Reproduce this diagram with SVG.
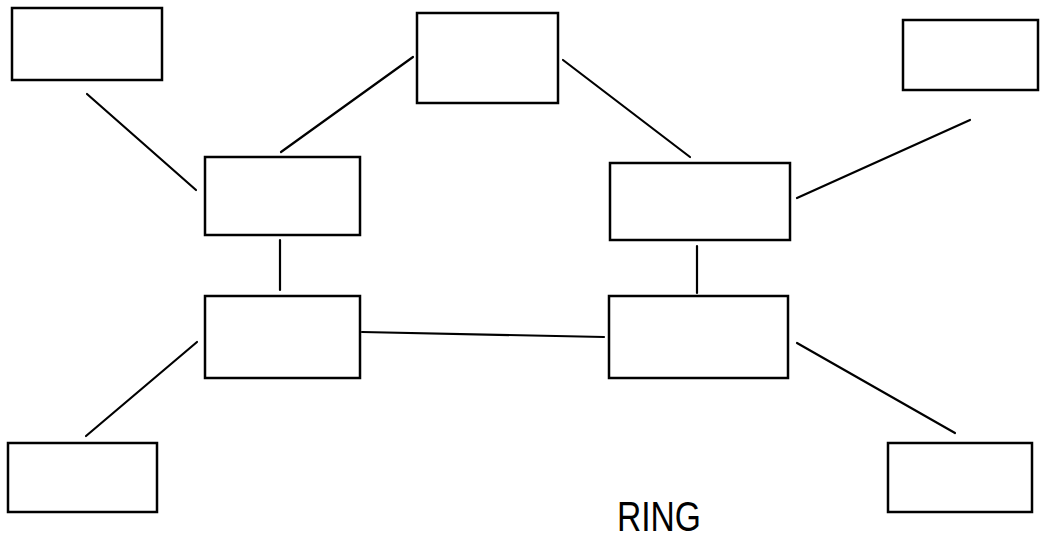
<svg xmlns="http://www.w3.org/2000/svg" width="1044" height="538" viewBox="0 0 1044 538">
<style>
.box{fill:none;stroke:#000;stroke-width:2.5}
.ln{stroke:#000;stroke-width:2.2;fill:none;stroke-linecap:round}
.lbl{font-family:"Liberation Sans",Arial,sans-serif;font-size:42px;fill:#000}
</style>
<rect width="1044" height="538" fill="#fff"/>
<g id="connectors">
<line class="ln" x1="87" y1="94" x2="196" y2="190"/>
<line class="ln" x1="281" y1="152" x2="413" y2="57"/>
<line class="ln" x1="563" y1="60" x2="690" y2="157"/>
<line class="ln" x1="797" y1="198" x2="970" y2="120"/>
<line class="ln" x1="280" y1="240" x2="280" y2="290"/>
<line class="ln" x1="697" y1="246" x2="697" y2="293"/>
<line class="ln" x1="362" y1="332" x2="604" y2="337"/>
<line class="ln" x1="197" y1="342" x2="86" y2="436"/>
<line class="ln" x1="797" y1="343" x2="955" y2="433"/>
</g>
<g id="node-tl"><rect class="box" x="12" y="8" width="150" height="72"/></g>
<g id="node-top"><rect class="box" x="417" y="13" width="141" height="90"/></g>
<g id="node-tr"><rect class="box" x="903" y="20" width="135" height="70"/></g>
<g id="node-l1"><rect class="box" x="205" y="157" width="155" height="78"/></g>
<g id="node-r1"><rect class="box" x="610" y="163" width="180" height="77"/></g>
<g id="node-l2"><rect class="box" x="205" y="296" width="155" height="82"/></g>
<g id="node-r2"><rect class="box" x="609" y="296" width="179" height="82"/></g>
<g id="node-bl"><rect class="box" x="8" y="443" width="149" height="69"/></g>
<g id="node-br"><rect class="box" x="888" y="443" width="144" height="69"/></g>
<text class="lbl" x="617" y="531" textLength="84" lengthAdjust="spacingAndGlyphs">RING</text>
</svg>
